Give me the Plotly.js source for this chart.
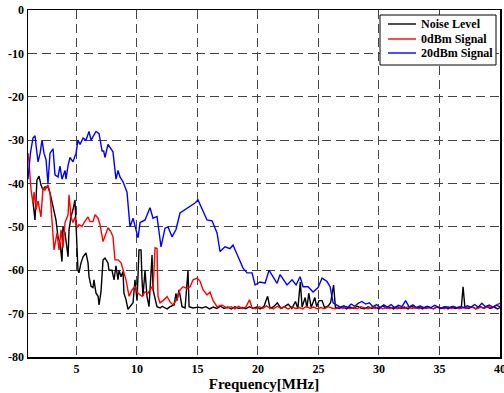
<!DOCTYPE html>
<html>
<head>
<meta charset="utf-8">
<script src="https://cdn.plot.ly/plotly-3.0.1.min.js"></script>
<style>html,body{margin:0;padding:0;background:#fff;overflow:hidden;}#chart{width:504px;height:393px;}</style>
</head>
<body>
<div id="chart"></div>
<script>
// Series names
const seriesNames = ["Noise Level", "0dBm Signal", "20dBm Signal"];

// Noise Level (black)
const noiseFreq = [1.4,1.58,1.74,1.91,2.07,2.24,2.4,2.65,2.82,3.07,
  3.15,3.31,3.48,3.64,3.81,3.89,4.06,4.31,4.39,4.55,
  4.72,4.88,4.97,5.13,5.21,5.38,5.55,5.79,5.96,6.04,
  6.21,6.37,6.45,6.62,6.79,6.87,7.03,7.2,7.36,7.61,
  7.69,7.94,8.11,8.27,8.44,8.52,8.69,8.85,8.93,9.1,
  9.26,9.43,9.68,9.84,10.01,10.17,10.34,10.42,10.5,10.67,
  10.83,11.0,11.25,11.33,11.5,11.66,11.91,12.1,12.32,12.5,
  12.74,13.07,13.23,13.31,13.48,13.64,13.73,13.98,14.22,14.31,
  14.64,15.05,15.38,15.7,16.0,16.3,16.6,16.9,17.2,17.5,
  17.8,18.1,18.4,18.7,19.0,19.3,19.6,19.9,20.2,20.5,
  20.8,21.0,21.3,21.6,21.9,22.2,22.5,22.8,23.1,23.3,
  23.5,23.65,23.9,24.05,24.2,24.4,24.7,24.85,25.05,25.3,
  25.5,25.8,26.0,26.25,26.4,26.7,27.0,27.3,27.6,27.9,
  28.2,28.5,28.8,29.1,29.4,29.7,30.0,30.3,30.6,30.9,
  31.2,31.5,31.8,32.1,32.4,32.7,33.0,33.3,33.6,33.9,
  34.2,34.5,34.8,35.1,35.4,35.7,36.0,36.3,36.6,36.8,
  36.95,37.1,37.4,37.7,38.0,38.3,38.6,38.9,39.2,39.5,
  39.8,40.0];
const noiseLevel = [-44,-48.4,-39.2,-38.3,-40.3,-41.5,-40.8,-40.8,-42.2,-45.3,
  -46,-48.4,-52.3,-53.7,-58,-50,-51.4,-56.9,-50.7,-47.7,
  -46,-43.8,-49.5,-60,-60.6,-58.3,-56.9,-56,-58.3,-61.4,
  -63.7,-64,-62.2,-65.3,-66,-68,-65,-57.6,-57.2,-58.3,
  -60,-60,-62.2,-59,-62.2,-60,-61.5,-60.3,-65.3,-66.8,
  -69,-68.4,-67.5,-62.2,-67,-55.3,-55.3,-62.2,-66,-60,
  -66,-68.4,-56.5,-64.5,-66.7,-68.4,-68.7,-68.3,-68.7,-68.9,
  -68.4,-68,-65.3,-67,-64.5,-66.7,-68.4,-68.7,-60,-68.4,
  -68.7,-68.5,-68.7,-68.4,-68.9,-68.5,-68.8,-68.3,-68.8,-68.5,
  -68.9,-68.4,-68.8,-68.6,-68.9,-68.4,-68.8,-68.5,-68.9,-68.3,
  -66,-68.8,-68.4,-67.5,-68.8,-68.4,-67.8,-68.8,-67.2,-68.8,
  -62.7,-68.5,-66.3,-68.6,-65.3,-68.6,-66.3,-68.4,-67,-67,
  -68.6,-68.2,-67.5,-63.4,-68.5,-68.8,-68.4,-68.9,-68.5,-68.8,
  -68.3,-68.7,-68.9,-68.4,-68.8,-68.5,-68.9,-68.2,-68.7,-68.5,
  -68.9,-68.4,-68.8,-68.5,-68.9,-68.3,-68.7,-68.5,-68.9,-68.4,
  -68.7,-68.9,-68.5,-68.8,-68.4,-68.9,-68.5,-68.8,-68.5,-68.7,
  -63.8,-68.6,-68.8,-68.4,-68.9,-68.3,-68.7,-68.4,-68.8,-68.5,
  -68.9,-68.6];

// 0dBm Signal (red)
const sig0Freq = [1.0,1.08,1.25,1.41,1.5,1.66,1.83,1.99,2.07,2.24,
  2.4,2.65,2.82,2.98,3.15,3.4,3.56,3.73,3.89,4.06,
  4.31,4.39,4.55,4.72,4.88,5.05,5.21,5.46,5.63,5.96,
  6.12,6.37,6.54,6.79,6.95,7.2,7.36,7.61,7.86,8.02,
  8.19,8.44,8.69,8.85,9.1,9.35,9.6,9.84,10.09,10.42,
  10.67,10.92,11.25,11.33,11.5,11.66,11.74,11.91,12.16,12.49,
  12.74,12.98,13.31,13.56,13.81,14.14,14.39,14.64,14.97,15.21,
  15.46,15.79,16.04,16.29,16.62,17.03,17.45,17.8,18.1,18.4,
  18.7,19.0,19.3,19.5,19.8,20.1,20.4,20.7,21.0,21.3,
  21.6,21.9,22.2,22.5,22.8,23.1,23.4,23.7,24.0,24.3,
  24.6,24.9,25.2,25.5,25.8,26.1,26.4,26.7,27.0,27.3,
  27.6,27.9,28.2,28.5,28.8,29.1,29.4,29.7,30.0,30.3,
  30.6,30.9,31.2,31.5,31.8,32.1,32.4,32.7,33.0,33.3,
  33.6,33.9,34.2,34.5,34.8,35.1,35.4,35.7,36.0,36.3,
  36.6,36.9,37.2,37.5,37.8,38.1,38.4,38.7,39.0,39.3,
  39.6,40.0];
const sig0Level = [-33,-35,-41.5,-44.5,-42,-46,-44,-46.5,-47.7,-41,
  -41.5,-40.3,-42.2,-48.4,-55.3,-51.4,-55.3,-50.7,-54.8,-49,
  -47.2,-42.6,-47.7,-49,-47.7,-50.2,-49.5,-49.9,-49,-47.7,
  -48.8,-48.8,-47.2,-48,-49.5,-53.4,-52.3,-50.2,-51.2,-52.3,
  -57.6,-57.6,-58.3,-59.9,-62.2,-66,-64.5,-63.8,-65.3,-66,
  -65,-65.3,-63.8,-64.5,-54.8,-55,-66,-67.5,-67,-66.1,
  -67.3,-68,-66.7,-64.5,-63.8,-64.2,-63.8,-62.2,-61.8,-62.5,
  -64.5,-65.7,-65,-67,-68.4,-68,-68.7,-68.4,-68.9,-68.3,
  -68.8,-68.5,-66.8,-68.6,-68.9,-68.4,-68.8,-68.2,-68.7,-68.9,
  -68.3,-68.8,-68.5,-68.9,-68.4,-68.8,-68.6,-68.9,-68.3,-68.8,
  -68.5,-68.9,-68.6,-68.9,-68.4,-68.7,-68.9,-68.5,-68.8,-68.4,
  -68.9,-68.6,-68.9,-68.4,-68.7,-68.9,-68.5,-68.8,-68.4,-68.9,
  -68.6,-68.8,-68.5,-68.9,-68.6,-68.8,-68.4,-68.8,-68.6,-68.9,
  -68.5,-68.8,-68.6,-68.9,-68.4,-68.7,-68.9,-68.5,-68.8,-68.5,
  -68.9,-68.6,-68.8,-68.4,-68.7,-68.9,-68.5,-68.8,-68.3,-68.7,
  -68.2,-67.6];

// 20dBm Signal (blue)
const sig20Freq = [1.0,1.2,1.41,1.58,1.7,1.83,2.0,2.16,2.32,2.49,
  2.65,2.82,3.07,3.23,3.48,3.64,3.81,4.06,4.14,4.3,
  4.47,4.72,4.97,5.13,5.3,5.55,5.79,6.04,6.21,6.4,
  6.62,6.87,7.12,7.25,7.36,7.61,8.02,8.27,8.44,8.6,
  8.85,9.18,9.43,9.68,9.85,10.09,10.26,10.67,11.08,11.33,
  11.66,11.99,12.32,12.57,12.9,13.23,13.56,13.98,14.39,14.8,
  15.05,15.38,15.79,16.21,16.62,16.87,17.28,17.69,17.94,18.36,
  18.77,19.1,19.51,19.76,20.17,20.59,20.92,21.25,21.58,21.83,
  22.07,22.4,22.82,23.15,23.48,23.73,24.14,24.55,24.97,25.3,
  25.71,25.96,26.21,26.54,26.8,27.1,27.4,27.7,28.0,28.3,
  28.6,28.9,29.2,29.5,29.8,30.1,30.4,30.7,31.0,31.3,
  31.6,31.9,32.2,32.5,32.8,33.1,33.4,33.7,34.0,34.3,
  34.6,34.9,35.2,35.5,35.8,36.1,36.4,36.7,37.0,37.3,
  37.6,37.9,38.2,38.5,38.8,39.1,39.4,39.7,40.0];
const sig20Level = [-39,-33,-29.5,-29,-32,-35,-33,-30,-33,-34.5,
  -40,-33,-32,-38,-38.5,-36,-39,-37,-39,-36,
  -34,-35,-33,-30,-31,-29.5,-30,-28,-30,-29,
  -28,-28.5,-32.5,-32.5,-34,-31,-32.7,-39,-37,-38.5,
  -39.6,-42,-50,-48,-50,-52.5,-49,-48.4,-45.6,-48,
  -47.6,-54.6,-50.3,-50,-52.3,-50.6,-46.8,-46,-45.3,-44.5,
  -43.8,-46,-48.4,-48.6,-51.4,-55.7,-54.6,-55,-54.2,-56.9,
  -59.5,-60.6,-60.6,-63.4,-62.7,-63,-60,-61.5,-63,-61,
  -62,-63.4,-62.2,-63.4,-61.5,-63.8,-63.8,-65,-64,-61.8,
  -62.6,-63.8,-67.5,-68,-68.5,-68.2,-68.6,-67.8,-68.3,-67.6,
  -67.2,-67.8,-67.5,-68.4,-67.9,-68.6,-68,-68.5,-67.9,-68.6,
  -68.1,-68.4,-67,-68.5,-68,-68.6,-68.2,-68.7,-68.3,-68.6,
  -68.1,-68.5,-68.8,-68.4,-68.6,-68.3,-68.7,-68.4,-68.6,-68.2,
  -68.5,-67.9,-68.5,-67.6,-68.4,-68,-68.5,-68.1,-68.4];

// Axis ticks
const xTicks = [5,10,15,20,25,30,35,40];
const yTicks = [-80,-70,-60,-50,-40,-30,-20,-10,0];
const xTitle = "Frequency[MHz]";

const serif = "Liberation Serif, Times New Roman, serif";
const colors = ["#000000", "#ff0000", "#0000ff"];
const xs = [noiseFreq, sig0Freq, sig20Freq];
const ys = [noiseLevel, sig0Level, sig20Level];

const traces = seriesNames.map((n, i) => ({
  type: "scatter", mode: "lines", name: n,
  x: xs[i], y: ys[i],
  line: {color: colors[i], width: 1.4}
}));

// Compact legend box (drawn in paper coordinates of the plot area)
const W = 472, H = 347, L = 28, T = 10;
const px = v => (v - L) / W;
const py = v => (T + H - v) / H;
const legendRows = [24, 39, 53];
const shapes = [{
  type: "rect", xref: "paper", yref: "paper",
  x0: px(380), x1: px(496), y0: py(65), y1: py(15),
  line: {color: "#000", width: 1}, fillcolor: "#fff", layer: "above"
}];
const annotations = [];
seriesNames.forEach((n, i) => {
  shapes.push({type: "line", xref: "paper", yref: "paper",
    x0: px(388), x1: px(416), y0: py(legendRows[i]), y1: py(legendRows[i]),
    line: {color: colors[i], width: 1.4}, layer: "above"});
  annotations.push({xref: "paper", yref: "paper", x: px(419), y: py(legendRows[i]),
    xanchor: "left", yanchor: "middle", showarrow: false, text: n,
    font: {family: serif, size: 12, color: "#000", weight: "bold"}});
});

const axisCommon = {
  showline: true, mirror: true, linecolor: "#000", linewidth: 1.5,
  showgrid: true, gridcolor: "#444", griddash: "9px,5px", gridwidth: 1,
  ticks: "", zeroline: false,
  tickfont: {family: serif, size: 12, color: "#000", weight: "bold"}
};

const layout = {
  width: 504, height: 393,
  margin: {l: 28, r: 4, t: 10, b: 36},
  paper_bgcolor: "#fff", plot_bgcolor: "#fff",
  showlegend: false,
  shapes: shapes,
  annotations: annotations,
  xaxis: Object.assign({}, axisCommon, {
    range: [1, 40], tickvals: xTicks, ticktext: xTicks.map(String),
    ticklabeloverflow: "allow",
    title: {text: xTitle, font: {family: serif, size: 15, color: "#000", weight: "bold"}, standoff: 3}
  }),
  yaxis: Object.assign({}, axisCommon, {
    range: [-80, 0], tickvals: yTicks, ticktext: yTicks.map(String),
    ticklabeloverflow: "allow"
  })
};

Plotly.newPlot("chart", traces, layout, {displayModeBar: false, staticPlot: true});
</script>
</body>
</html>
